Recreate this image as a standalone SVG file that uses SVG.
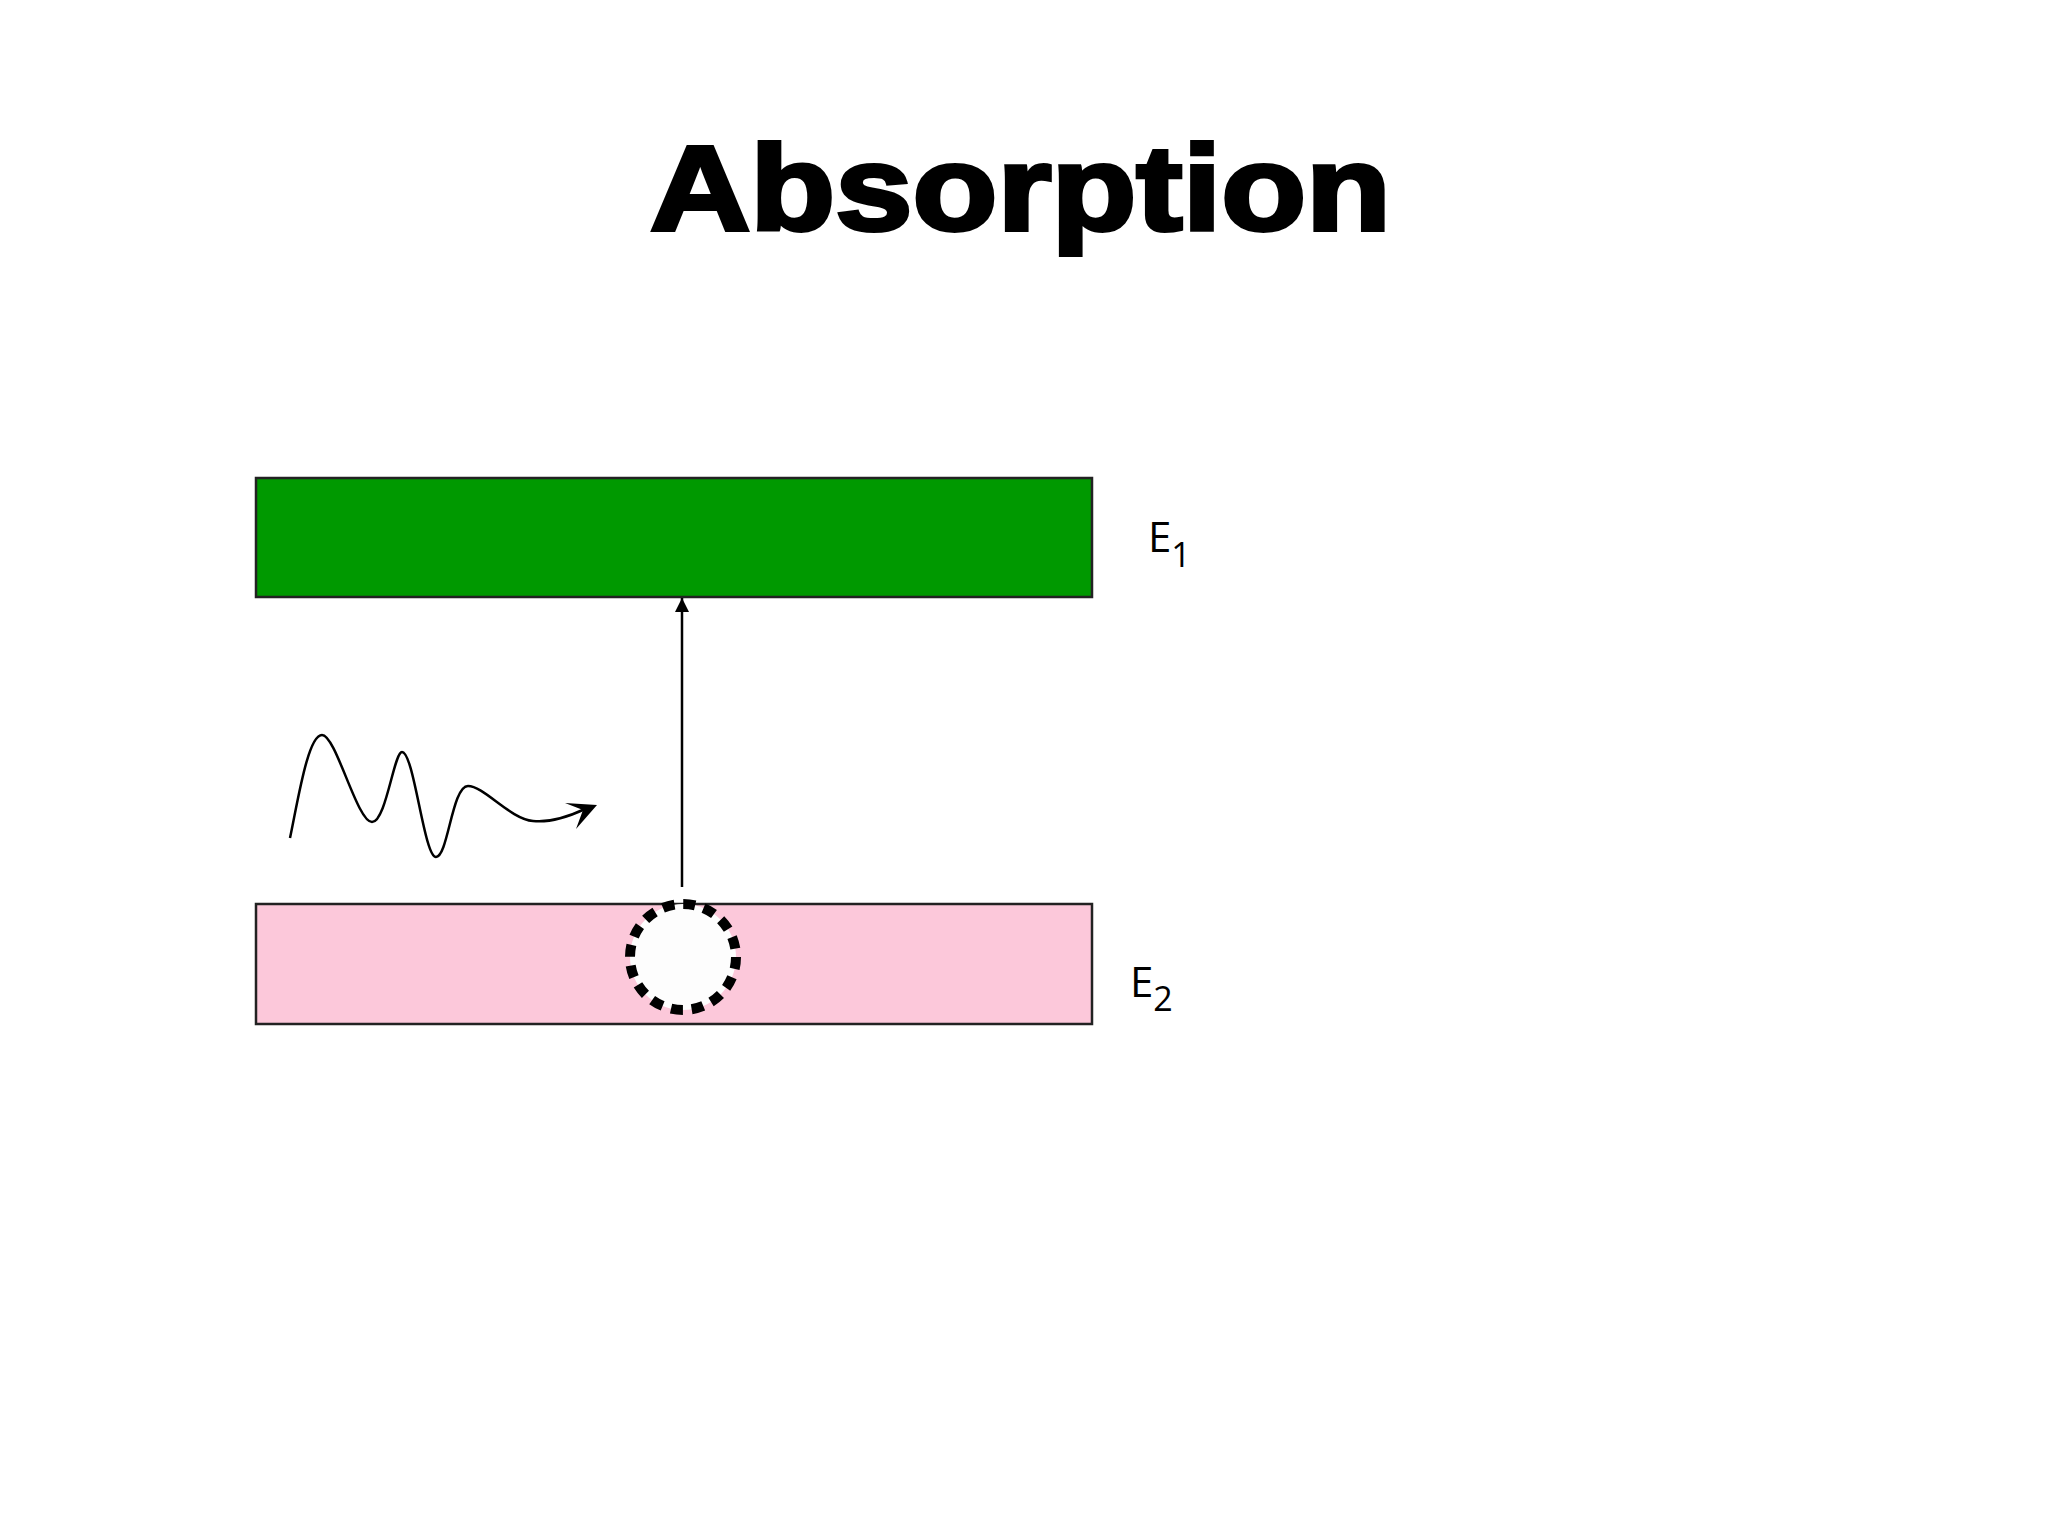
<svg xmlns="http://www.w3.org/2000/svg" width="2048" height="1536" viewBox="0 0 2048 1536">
<style>
.title{font-family:"Liberation Sans",Arial,sans-serif;font-weight:bold;font-size:120px;fill:#000;stroke:#000;stroke-width:4;stroke-linejoin:miter}
.lbl{font-family:"Open Sans","Noto Sans",sans-serif;font-size:42px;fill:#000}
.sub{font-size:34px}
.band{stroke:#222;stroke-width:2.5}
.line{fill:none;stroke:#000;stroke-width:2.5}
</style>
<defs>
<marker id="ah" markerWidth="14" markerHeight="16" refX="14" refY="7" orient="auto" markerUnits="userSpaceOnUse" viewBox="0 0 14 14">
<path d="M0,0 L14,7 L0,14 z" fill="#000"/>
</marker>
</defs>
<rect width="2048" height="1536" fill="#fff"/>
<text class="title" x="650" y="230" textLength="741" lengthAdjust="spacingAndGlyphs">Absorption</text>
<g id="level-e1">
<rect class="band" x="256" y="478" width="836" height="119" fill="#009900"/>
<text class="lbl" x="1148" y="552">E<tspan class="sub" dy="15">1</tspan></text>
</g>
<g id="level-e2">
<rect class="band" x="256" y="904" width="836" height="120" fill="#fcc8da"/>
<text class="lbl" x="1130" y="997">E<tspan class="sub" dy="14">2</tspan></text>
</g>
<g id="electron">
<circle cx="683" cy="957" r="53" fill="#fdfdfd" stroke="#000" stroke-width="10" stroke-dasharray="12 8.8"/>
</g>
<g id="photon">
<path class="line" d="M290,838 C298,800 308,735 322,735 C336,735 357,822 372,822 C386,822 394,752 402,752 C414,752 424,857 436,857 C448,857 452,786 468,786 C484,786 510,819 533,821 C552,823 570,816 585,809"/>
<path d="M565,803 L597,805 L576,829 L583,810 z" fill="#000"/>
</g>
<g id="connectors">
<line class="line" x1="682" y1="887" x2="682" y2="598" marker-end="url(#ah)"/>
</g>
</svg>
